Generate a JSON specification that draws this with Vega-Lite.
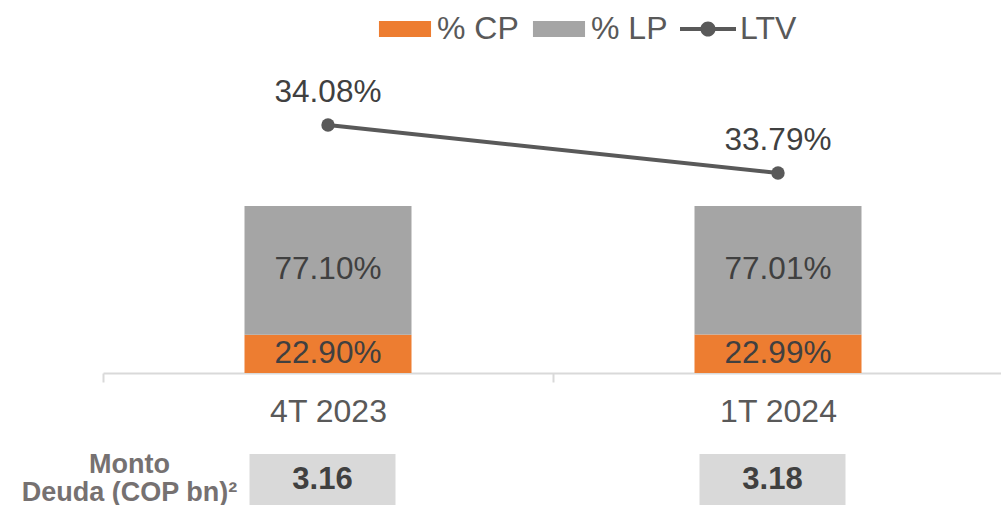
{
  "$schema": "https://vega.github.io/schema/vega-lite/v6.json",
  "padding": {"left": 21, "top": 1, "right": 0, "bottom": 0},
  "config": {"font": "Liberation Sans", "view": {"stroke": null}},
  "spacing": 23,
  "datasets": {
    "mix": [
      {"periodo": "4T 2023", "serie": "% CP", "valor": 0.2290},
      {"periodo": "4T 2023", "serie": "% LP", "valor": 0.7710},
      {"periodo": "1T 2024", "serie": "% CP", "valor": 0.2299},
      {"periodo": "1T 2024", "serie": "% LP", "valor": 0.7701}
    ],
    "ltv": [
      {"periodo": "4T 2023", "ltv": 0.3408},
      {"periodo": "1T 2024", "ltv": 0.3379}
    ],
    "deuda": [
      {"periodo": "4T 2023", "monto": 3.16},
      {"periodo": "1T 2024", "monto": 3.18}
    ]
  },
  "vconcat": [
    {
      "width": 900,
      "height": 303,
      "resolve": {"scale": {"y": "independent"}},
      "layer": [
        {
          "data": {"name": "mix"},
          "mark": {"type": "bar", "size": 167},
          "encoding": {
            "x": {
              "field": "periodo", "type": "nominal", "sort": ["4T 2023", "1T 2024"],
              "scale": {"paddingInner": 0, "paddingOuter": 0},
              "axis": {
                "title": null, "labelAngle": 0, "labelFontSize": 32, "labelColor": "#595959",
                "labelPadding": 14, "tickSize": 9, "tickColor": "#D9D9D9", "tickWidth": 2,
                "domainColor": "#D9D9D9", "domainWidth": 2, "tickBand": "extent"
              }
            },
            "y": {
              "field": "valor", "type": "quantitative", "stack": "zero",
              "scale": {"domain": [0, 1.8144], "nice": false}, "axis": null
            },
            "order": {"field": "serie", "sort": "ascending"},
            "color": {
              "field": "serie", "type": "nominal",
              "scale": {"domain": ["% CP", "% LP", "LTV"], "range": ["#ED7D31", "#A5A5A5", "#595959"]},
              "legend": {
                "orient": "none", "legendX": 274, "legendY": -69, "direction": "horizontal",
                "title": null, "labelFontSize": 32, "labelColor": "#595959",
                "symbolSize": 3136, "labelOffset": 4, "columnPadding": 12, "symbolStrokeWidth": 0,
                "encode": {
                  "symbols": {
                    "update": {
                      "shape": {"signal": "datum.value === 'LTV' ? 'M-1,-0.071L1,-0.071L1,0.071L-1,0.071Z M-0.27,0A0.27,0.27 0 1,1 0.27,0A0.27,0.27 0 1,1 -0.27,0Z' : 'M-0.93,-0.286L0.93,-0.286L0.93,0.286L-0.93,0.286Z'"},
                      "fill": {"scale": "color", "field": "value"},
                      "stroke": {"value": "transparent"},
                      "opacity": {"value": 1}
                    }
                  }
                }
              }
            }
          }
        },
        {
          "data": {"name": "mix"},
          "transform": [
            {"stack": "valor", "groupby": ["periodo"], "sort": [{"field": "serie"}], "as": ["v0", "v1"]},
            {"calculate": "(datum.v0 + datum.v1) / 2", "as": "mid"}
          ],
          "mark": {"type": "text", "fontSize": 31.5, "color": "#404040", "baseline": "middle"},
          "encoding": {
            "x": {"field": "periodo", "type": "nominal", "sort": ["4T 2023", "1T 2024"]},
            "y": {"field": "mid", "type": "quantitative", "scale": {"domain": [0, 1.8144], "nice": false}, "axis": null},
            "text": {"field": "valor", "type": "quantitative", "format": ".2%"}
          }
        },
        {
          "data": {"name": "ltv"},
          "mark": {"type": "line", "strokeWidth": 4, "point": {"filled": true, "size": 180}},
          "encoding": {
            "x": {"field": "periodo", "type": "nominal", "sort": ["4T 2023", "1T 2024"]},
            "y": {"field": "ltv", "type": "quantitative", "scale": {"domain": [0.325817, 0.344123], "nice": false, "zero": false}, "axis": null},
            "color": {"datum": "LTV"}
          }
        },
        {
          "data": {"name": "ltv"},
          "mark": {"type": "text", "fontSize": 31.5, "color": "#404040", "baseline": "alphabetic", "dy": -23},
          "encoding": {
            "x": {"field": "periodo", "type": "nominal", "sort": ["4T 2023", "1T 2024"]},
            "y": {"field": "ltv", "type": "quantitative", "scale": {"domain": [0.325817, 0.344123], "nice": false, "zero": false}, "axis": null},
            "text": {"field": "ltv", "type": "quantitative", "format": ".2%"}
          }
        }
      ]
    },
    {
      "width": 900,
      "height": 52,
      "data": {"name": "deuda"},
      "layer": [
        {
          "mark": {"type": "bar", "size": 146, "color": "#D9D9D9", "xOffset": -5.5},
          "encoding": {
            "x": {
              "field": "periodo", "type": "nominal", "sort": ["4T 2023", "1T 2024"],
              "scale": {"paddingInner": 0, "paddingOuter": 0}, "axis": null
            },
            "y": {
              "datum": 1, "type": "quantitative", "scale": {"domain": [0, 1], "nice": false},
              "axis": {
                "title": ["Monto", "Deuda (COP bn)²"], "titleAngle": 0, "titleAlign": "center",
                "titleBaseline": "alphabetic", "titleX": 26, "titleY": 18, "titleFontSize": 27,
                "titleFontWeight": "bold", "titleColor": "#767171", "titleLineHeight": 28,
                "labels": false, "ticks": false, "domain": false, "grid": false
              }
            }
          }
        },
        {
          "mark": {"type": "text", "fontSize": 31, "fontWeight": "bold", "color": "#404040", "baseline": "middle", "xOffset": -5.5},
          "encoding": {
            "x": {"field": "periodo", "type": "nominal", "sort": ["4T 2023", "1T 2024"]},
            "y": {"datum": 0.5, "type": "quantitative"},
            "text": {"field": "monto", "type": "quantitative", "format": ".2f"}
          }
        }
      ]
    }
  ]
}
